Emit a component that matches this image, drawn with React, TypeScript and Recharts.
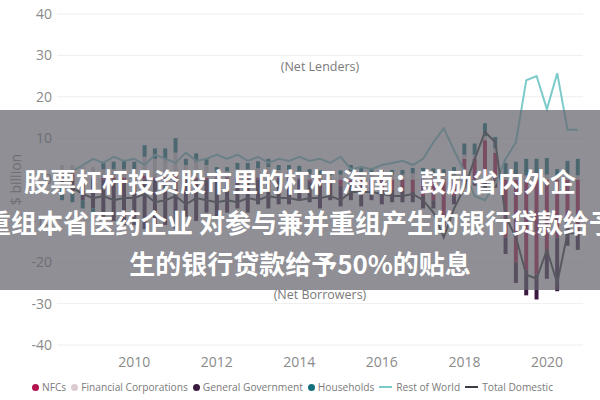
import React from 'react';
import { ComposedChart, Bar, Line, XAxis, YAxis, CartesianGrid, ReferenceLine } from 'recharts';

const quarters = [
  '2008 Q2','2008 Q3','2008 Q4',
  '2009 Q1','2009 Q2','2009 Q3','2009 Q4',
  '2010 Q1','2010 Q2','2010 Q3','2010 Q4',
  '2011 Q1','2011 Q2','2011 Q3','2011 Q4',
  '2012 Q1','2012 Q2','2012 Q3','2012 Q4',
  '2013 Q1','2013 Q2','2013 Q3','2013 Q4',
  '2014 Q1','2014 Q2','2014 Q3','2014 Q4',
  '2015 Q1','2015 Q2','2015 Q3','2015 Q4',
  '2016 Q1','2016 Q2','2016 Q3','2016 Q4',
  '2017 Q1','2017 Q2','2017 Q3','2017 Q4',
  '2018 Q1','2018 Q2','2018 Q3','2018 Q4',
  '2019 Q1','2019 Q2','2019 Q3','2019 Q4',
  '2020 Q1','2020 Q2','2020 Q3','2020 Q4',
];

const yearTicks = ['2010 Q1', '2012 Q1', '2014 Q1', '2016 Q1', '2018 Q1', '2020 Q1'];
const yTicks = [-40, -30, -20, -10, 0, 10, 20, 30, 40];

const nfcs = [1, 1.5, 1, 0.5, 0.5, 0.5, 0.5, 0.5, 1, 0.5, 0.5, 1, 0.5, 0.5, 0.5, 0.5, 0.5, 0.5, 0.5, 0.5, 0.5, 0.5, 0.5, 0.3, -0.5, -1, -1, -1.5, -1, -1.5, -2, -2, -2.5, -2.5, -3, -4, -5, -9, -4, 5, 5, 9.5, 6.5, -14, -20, -22, -23, -18, -14, -10, -12];
const financial = [2.5, 2, 2, 2.5, 2, 2, 2, 2, 4.5, 4.5, 4.5, 5.5, 3, 3.8, 3, 1.5, 1.5, 2, 2, 2.2, 2.5, 1.8, 1.8, 1.7, 1.3, 1.2, 1, 1.2, 2, 1.8, 1.5, 1.3, 1.2, 1.2, 1.5, 1.5, 1.2, 1, 1.2, 1, 1, 1, 1, 1, 0.8, 1, 1, 1.2, 1, 1, 1];
const government = [-2, -3, -5, -7, -9, -10, -11, -11, -12, -11, -11, -12, -9, -10, -8, -9, -8, -7, -8, -6, -7, -6, -6, -5, -5, -6, -4, -5, -4, -5, -3, -4, -3, -3, -2.5, -3, -2, -2.5, -2, -2, -1.5, -2, -2, -4, -5, -6, -6, -6, -13, -6, -5];
const households = [-3, -2.5, -2, -1, 1.8, 1.8, 2, 1.8, 2.8, 2.5, 2.5, 3.5, 1.5, 2, 1.5, 1, 1, 1.5, 1.5, 1.7, 2, 1.2, 1.2, 1.3, 1.2, 1, 1, 1, 1.5, 1.2, 1, 1, 1.1, 1.1, 1.3, 1.3, 1.5, 1.5, 1.8, 2.7, 2.7, 3.1, 2.8, 3, 3.5, 4, 4, 4, 1.5, 3.5, 4];
const restOfWorld = [0.5, 2, 3.5, 5, 4, 5.5, 4.5, 5, 3.5, 6, 5, 4, 6.5, 4.5, 5, 6, 5, 6, 4.5, 5.5, 4, 5, 4.5, 5.5, 4.5, 5, 4, 5.5, 2.5, 3, 2.5, 3.5, 4, 4.5, 3.5, 5, 9, 12.4, 7, 2, -4, -5, -1, 5, 9, 24, 25, 17, 25.7, 12, 12];
const totalDomestic = [-1, -2, -3.5, -4.5, -4, -5, -4.5, -4.5, -3.5, -5.5, -5, -4, -6, -4.5, -5, -5.5, -5, -5.5, -4.5, -5, -4, -4.5, -4.5, -5, -4.5, -4.5, -4, -5, -3, -3, -3, -3.5, -4, -4, -3.5, -5, -8, -14, -7, -2, 5, 11.5, 9, -9, -14, -23, -24, -17, -25, -13, -13];

const data = quarters.map((q, i) => ({
  q,
  nfcs: nfcs[i],
  financial: financial[i],
  government: government[i],
  households: households[i],
  row: restOfWorld[i],
  total: totalDomestic[i],
}));

const COLORS = {
  nfcs: '#b3124f',
  financial: '#dacbcf',
  government: '#3b1a40',
  households: '#13707f',
  row: '#7ccaca',
  total: '#3c3c44',
};

const legendItems = [
  { label: 'NFCs', color: COLORS.nfcs, type: 'dot' },
  { label: 'Financial Corporations', color: COLORS.financial, type: 'dot' },
  { label: 'General Government', color: COLORS.government, type: 'dot' },
  { label: 'Households', color: COLORS.households, type: 'dot' },
  { label: 'Rest of World', color: COLORS.row, type: 'line' },
  { label: 'Total Domestic', color: COLORS.total, type: 'line' },
];

const titleLines = [
  '股票杠杆投资股市里的杠杆 海南：鼓励省内外企',
  '重组本省医药企业 对参与兼并重组产生的银行贷款给予',
  '生的银行贷款给予50%的贴息',
];

const FONT = '"Open Sans", "Segoe UI", sans-serif';

const YLabel = (props: any) => {
  const vb = props.viewBox || { x: 0, y: 14, width: 57, height: 331 };
  const cx = 15;
  const cy = vb.y + vb.height / 2;
  return (
    <text x={cx} y={cy} transform={`rotate(-90, ${cx}, ${cy})`} textAnchor="middle" dominantBaseline="central" fill="#8a8a8a" fontSize={14} fontFamily={FONT}>
      $ billion
    </text>
  );
};

export default function App() {
  return (
    <div style={{ position: 'absolute', left: 0, top: 0, width: 600, height: 400, background: '#fff', overflow: 'hidden', fontFamily: FONT }}>
      <ComposedChart width={600} height={400} data={data} stackOffset="sign" margin={{ top: 14, right: 17, bottom: 0, left: 0 }} barCategoryGap="30%">
        <CartesianGrid vertical={false} stroke="#eeeeee" />
        <XAxis dataKey="q" ticks={yearTicks} interval={0} tickFormatter={(v: string) => v.slice(0, 4)} axisLine={false} tickLine={false} height={55} tickMargin={6} tick={{ fill: '#8a8a8a', fontSize: 14, fontFamily: FONT }} />
        <YAxis domain={[-40, 40]} ticks={yTicks} width={57} axisLine={false} tickLine={false} tickSize={5} tickMargin={0} tick={{ fill: '#8a8a8a', fontSize: 14, fontFamily: FONT }} label={<YLabel />} />
        <ReferenceLine y={27.4} stroke="none" label={{ value: '(Net Lenders)', position: 'center', fill: '#7a7a7a', fontSize: 12.5, fontFamily: FONT }} />
        <ReferenceLine y={-27.8} stroke="none" label={{ value: '(Net Borrowers)', position: 'center', fill: '#7a7a7a', fontSize: 12.5, fontFamily: FONT }} />
        <Bar dataKey="nfcs" stackId="a" fill={COLORS.nfcs} isAnimationActive={false} />
        <Bar dataKey="financial" stackId="a" fill={COLORS.financial} isAnimationActive={false} />
        <Bar dataKey="government" stackId="a" fill={COLORS.government} isAnimationActive={false} />
        <Bar dataKey="households" stackId="a" fill={COLORS.households} isAnimationActive={false} />
        <Line dataKey="row" stroke={COLORS.row} strokeWidth={2} dot={false} isAnimationActive={false} />
        <Line dataKey="total" stroke={COLORS.total} strokeWidth={2} dot={false} isAnimationActive={false} />
      </ComposedChart>

      <div style={{ position: 'absolute', left: 32, top: 379, height: 16, display: 'flex', alignItems: 'center', fontSize: 10.2, color: '#7a7a7a', whiteSpace: 'nowrap' }}>
        {legendItems.map((it) => (
          <div key={it.label} style={{ display: 'flex', alignItems: 'center', marginRight: 5 }}>
            {it.type === 'dot' ? (
              <span style={{ width: 7, height: 7, borderRadius: '50%', background: it.color, display: 'inline-block', marginRight: 3 }} />
            ) : (
              <span style={{ width: 13, height: 2, background: it.color, display: 'inline-block', marginRight: 4 }} />
            )}
            <span>{it.label}</span>
          </div>
        ))}
      </div>

      <div style={{ position: 'absolute', left: 0, top: 110, width: 600, height: 180, background: 'rgba(100,100,108,0.72)', overflow: 'hidden' }}>
        {titleLines.map((t, i) => (
          <div key={i} style={{ position: 'absolute', left: '50%', top: 50 + i * 41, transform: 'translateX(-50%)', whiteSpace: 'nowrap', color: '#fff', fontFamily: '"Noto Sans CJK SC", sans-serif', fontWeight: 700, fontSize: 26, lineHeight: '42px' }}>
            {t}
          </div>
        ))}
      </div>
    </div>
  );
}
